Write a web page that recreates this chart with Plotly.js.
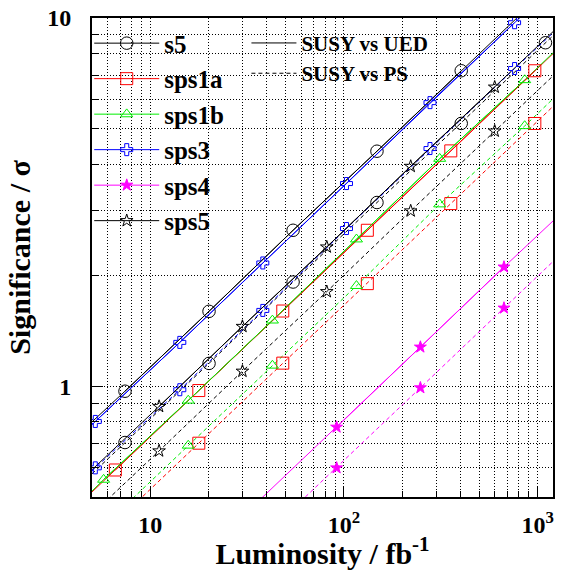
<!DOCTYPE html>
<html>
<head>
<meta charset="utf-8">
<script src="https://cdn.plot.ly/plotly-3.0.1.min.js"></script>
<style>
html,body{margin:0;padding:0;background:#fff;}
#chart{width:564px;height:570px;}
</style>
</head>
<body>
<div id="chart"></div>
<script>
// ---- data ----
const lumEdge = [5, 1200];            // luminosity at the left / right frame (fb^-1)

const lum_s5 = [7.4, 20.1, 54.6, 148, 403, 1097];
const ued_s5 = [0.969, 1.597, 2.651, 4.347, 7.19, null];
const ps_s5  = [0.703, 1.153, 1.918, 3.154, 5.172, 8.567];
const uedEdge_s5 = [0.80, 12.4];
const psEdge_s5  = [0.578, 8.95];

const lum_sps1a = [6.6, 17.8, 48.3, 132, 356, 967];
const ued_sps1a = [0.592, 0.973, 1.600, 2.651, 4.356, 7.19];
const ps_sps1a  = [null, 0.700, 1.155, 1.899, 3.133, 5.17];
const uedEdge_sps1a = [0.516, 8.0];
const psEdge_sps1a  = [0.371, 5.75];

const lum_sps1b = [5.74, 15.7, 42.7, 116, 312, 857];
const ued_sps1b = [0.5575, 0.9145, 1.509, 2.506, 4.149, 6.784];
const ps_sps1b  = [null, 0.690, 1.138, 1.873, 3.120, 5.09];
const uedEdge_sps1b = [0.519, 8.04];
const psEdge_sps1b  = [0.389, 6.03];

const lum_sps3 = [5.2, 14.2, 38.1, 103, 278, 760];
const ued_sps3 = [0.802, 1.315, 2.161, 3.551, 5.89, 9.71];
const ps_sps3  = [0.600, 0.978, 1.606, 2.68, 4.42, 7.29];
const uedEdge_sps3 = [0.785, 12.16];
const psEdge_sps3  = [0.588, 9.11];

const lum_sps4 = [91.6, 248, 670];
const ued_sps4 = [0.774, 1.277, 2.107];
const ps_sps4  = [0.600, 0.990, 1.63];
const uedEdge_sps4 = [0.181, 2.81];
const psEdge_sps4  = [0.141, 2.18];

const lum_sps5 = [11.1, 29.9, 81.5, 221, 600];
const ued_sps5 = [0.881, 1.453, 2.388, 3.954, 6.49];
const ps_sps5  = [0.667, 1.098, 1.806, 2.992, 4.93];
const uedEdge_sps5 = [0.593, 9.18];
const psEdge_sps5  = [0.449, 6.96];

const seriesNames = ['s5', 'sps1a', 'sps1b', 'sps3', 'sps4', 'sps5'];
const styleNames = ['SUSY vs UED', 'SUSY vs PS'];

const xMajor = [10, 100, 1000];
const xMajorText = ['10', '10<sup>2</sup>', '10<sup>3</sup>'];
const xMinor = [6, 7, 8, 9, 20, 30, 40, 50, 60, 70, 80, 90, 200, 300, 400, 500, 600, 700, 800, 900];
const yMajor = [1, 10];
const yMajorText = ['1', '10'];
const yMinor = [0.6, 0.7, 0.8, 0.9, 2, 3, 4, 5, 6, 7, 8, 9];

// ---- styles ----
const FONT = 'Liberation Serif, Times New Roman, serif';
const series = [
  {name: seriesNames[0], lum: lum_s5,    ued: ued_s5,    ps: ps_s5,    ue: uedEdge_s5,    pe: psEdge_s5,    color: '#000000', symbol: 'circle-open',      size: 12.5},
  {name: seriesNames[1], lum: lum_sps1a, ued: ued_sps1a, ps: ps_sps1a, ue: uedEdge_sps1a, pe: psEdge_sps1a, color: '#ff0000', symbol: 'square-open',      size: 12},
  {name: seriesNames[2], lum: lum_sps1b, ued: ued_sps1b, ps: ps_sps1b, ue: uedEdge_sps1b, pe: psEdge_sps1b, color: '#00ee00', symbol: 'triangle-up-open', size: 10.5},
  {name: seriesNames[3], lum: lum_sps3,  ued: ued_sps3,  ps: ps_sps3,  ue: uedEdge_sps3,  pe: psEdge_sps3,  color: '#0000ff', symbol: 'cross-open',       size: 10},
  {name: seriesNames[4], lum: lum_sps4,  ued: ued_sps4,  ps: ps_sps4,  ue: uedEdge_sps4,  pe: psEdge_sps4,  color: '#ff00ff', symbol: 'star',             size: 9},
  {name: seriesNames[5], lum: lum_sps5,  ued: ued_sps5,  ps: ps_sps5,  ue: uedEdge_sps5,  pe: psEdge_sps5,  color: '#000000', symbol: 'star-open',        size: 9.5}
];
const DASH = '4px,3px';

const traces = [];
// extended lines (edge to edge)
series.forEach(s => {
  traces.push({
    x: [lumEdge[0]].concat(s.lum, [lumEdge[1]]),
    y: [s.pe[0]].concat(s.ps, [s.pe[1]]),
    mode: 'lines', connectgaps: true, showlegend: false, hoverinfo: 'skip',
    line: {color: s.color, width: 1, dash: DASH}
  });
});
series.forEach(s => {
  traces.push({
    x: [lumEdge[0]].concat(s.lum, [lumEdge[1]]),
    y: [s.ue[0]].concat(s.ued, [s.ue[1]]),
    mode: 'lines', connectgaps: true, showlegend: false, hoverinfo: 'skip',
    line: {color: s.color, width: 1}
  });
});
// markers
series.forEach(s => {
  traces.push({
    x: s.lum, y: s.ps, mode: 'markers', showlegend: false,
    marker: {symbol: s.symbol, size: s.size, color: s.color, line: {color: s.color, width: 1}}
  });
});
series.forEach(s => {
  traces.push({
    x: s.lum, y: s.ued, mode: 'lines+markers', name: s.name, legend: 'legend',
    line: {color: s.color, width: 1},
    marker: {symbol: s.symbol, size: s.size, color: s.color, line: {color: s.color, width: 1}}
  });
});
// style legend
traces.push({x: [null], y: [null], mode: 'lines', name: styleNames[0], legend: 'legend2',
  line: {color: '#000', width: 1}});
traces.push({x: [null], y: [null], mode: 'lines', name: styleNames[1], legend: 'legend2',
  line: {color: '#000', width: 1, dash: DASH}});

const grid = {showgrid: true, gridcolor: '#000', gridwidth: 1, griddash: '1px,2px'};
const tickFont = {family: FONT, size: 24, weight: 'bold', color: '#000'};

const layout = {
  width: 564, height: 570,
  margin: {l: 92, r: 11, t: 18, b: 73},
  paper_bgcolor: '#fff', plot_bgcolor: '#fff',
  showlegend: true,
  xaxis: Object.assign({
    type: 'log', range: [Math.log10(5), Math.log10(1200)],
    showline: true, linecolor: '#000', linewidth: 2, mirror: true,
    zeroline: false,
    tickmode: 'array', tickvals: xMajor, ticktext: xMajorText,
    ticks: 'inside', ticklen: 11, tickwidth: 1, tickcolor: '#000',
    tickfont: tickFont, ticklabelstandoff: 5,
    minor: Object.assign({tickmode: 'array', tickvals: xMinor, ticks: 'inside', ticklen: 6, tickwidth: 1, tickcolor: '#000'}, grid),
    title: {text: 'Luminosity / fb<sup>-1</sup>', font: {family: FONT, size: 30, weight: 'bold', color: '#000'}, standoff: 25}
  }, grid),
  yaxis: Object.assign({
    type: 'log', range: [Math.log10(0.5), 1],
    showline: true, linecolor: '#000', linewidth: 2, mirror: true,
    zeroline: false,
    tickmode: 'array', tickvals: yMajor, ticktext: yMajorText,
    ticks: 'inside', ticklen: 11, tickwidth: 1, tickcolor: '#000',
    tickfont: tickFont, ticklabelstandoff: 14,
    minor: Object.assign({tickmode: 'array', tickvals: yMinor, ticks: 'inside', ticklen: 6, tickwidth: 1, tickcolor: '#000'}, grid),
    title: {text: 'Significance / σ', font: {family: FONT, size: 30, weight: 'bold', color: '#000'}, standoff: 8}
  }, grid),
  legend: {
    x: -0.006, y: 0.995, xanchor: 'left', yanchor: 'top',
    bgcolor: 'rgba(0,0,0,0)', borderwidth: 0,
    font: {family: FONT, size: 25, weight: 'bold', color: '#000'},
    itemwidth: 65, tracegroupgap: 0, traceorder: 'normal'
  },
  legend2: {
    x: 0.335, y: 0.99, xanchor: 'left', yanchor: 'top',
    bgcolor: 'rgba(0,0,0,0)', borderwidth: 0,
    font: {family: FONT, size: 21, weight: 'bold', color: '#000'},
    itemwidth: 45, tracegroupgap: 0
  }
};

Plotly.newPlot('chart', traces, layout, {displayModeBar: false, staticPlot: true});
</script>
</body>
</html>
